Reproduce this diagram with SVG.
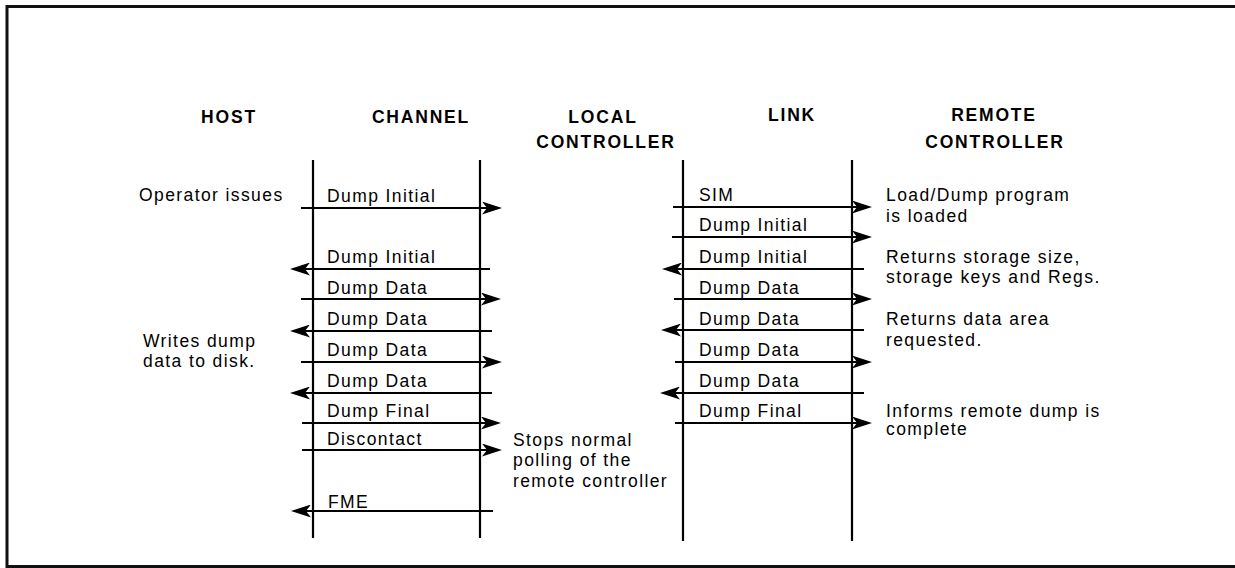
<svg xmlns="http://www.w3.org/2000/svg" width="1235" height="568" viewBox="0 0 1235 568">
  <style>
    .hdr { font-family: "Liberation Sans", Arial, sans-serif; font-weight: bold; font-size: 17.5px; letter-spacing: 1.8px; fill: #000; text-anchor: middle; }
    .lbl { font-family: "Liberation Sans", Arial, sans-serif; font-size: 17.5px; letter-spacing: 1.4px; fill: #000; }
    .life { stroke: #000; stroke-width: 2.2; fill: none; }
    .msg { stroke: #000; stroke-width: 2.2; fill: none; marker-end: url(#head); }
    .frame { stroke: #111; stroke-width: 3; fill: none; }
  </style>
  <defs>
    <!-- barbed filled arrowhead, tip sits 4px past the line end -->
    <marker id="head" viewBox="0 0 20 13" refX="16" refY="6.5" markerWidth="20" markerHeight="13" markerUnits="userSpaceOnUse" orient="auto">
      <path d="M0,0 L20,6.5 L0,13 L5,6.5 Z" fill="#000"/>
    </marker>
  </defs>
  <rect width="1235" height="568" fill="#fff"/>

  <!-- outer frame: top, left and bottom rules -->
  <g id="frame">
    <path class="frame" d="M1235,6.5 H7 V566.5 H1235"/>
  </g>

  <!-- column headings and side notes -->
  <g id="host">
    <text class="hdr" x="229" y="123">HOST</text>
    <text class="lbl" x="139" y="201">Operator issues</text>
    <text class="lbl" x="143" y="347">Writes dump</text>
    <text class="lbl" x="143" y="367">data to disk.</text>
  </g>
  <g id="channel">
    <text class="hdr" x="421" y="123">CHANNEL</text>
    <line class="life" x1="313" y1="160" x2="313" y2="538"/>
    <line class="life" x1="480" y1="160" x2="480" y2="538"/>
  </g>
  <g id="local-controller">
    <text class="hdr" x="603" y="123">LOCAL</text>
    <text class="hdr" x="606" y="148">CONTROLLER</text>
    <text class="lbl" x="513" y="446">Stops normal</text>
    <text class="lbl" x="513" y="466">polling of the</text>
    <text class="lbl" x="513" y="487">remote controller</text>
  </g>
  <g id="link">
    <text class="hdr" x="792" y="121">LINK</text>
    <line class="life" x1="683" y1="160" x2="683" y2="541"/>
    <line class="life" x1="852" y1="160" x2="852" y2="541"/>
  </g>
  <g id="remote-controller">
    <text class="hdr" x="994" y="121">REMOTE</text>
    <text class="hdr" x="995" y="148">CONTROLLER</text>
    <text class="lbl" x="886" y="201">Load/Dump program</text>
    <text class="lbl" x="886" y="222">is loaded</text>
    <text class="lbl" x="886" y="263">Returns storage size,</text>
    <text class="lbl" x="886" y="283">storage keys and Regs.</text>
    <text class="lbl" x="886" y="325">Returns data area</text>
    <text class="lbl" x="886" y="346">requested.</text>
    <text class="lbl" x="886" y="417">Informs remote dump is</text>
    <text class="lbl" x="886" y="435">complete</text>
  </g>

  <!-- messages -->
  <g id="connectors">
    <!-- host / channel side -->
    <line class="msg" x1="301" y1="208" x2="498" y2="208"/>
    <line class="msg" x1="490" y1="269" x2="294" y2="269"/>
    <line class="msg" x1="301" y1="299" x2="497" y2="299"/>
    <line class="msg" x1="492" y1="331" x2="294" y2="331"/>
    <line class="msg" x1="301" y1="362" x2="498" y2="362"/>
    <line class="msg" x1="492" y1="393" x2="294" y2="393"/>
    <line class="msg" x1="302" y1="423" x2="497" y2="423"/>
    <line class="msg" x1="302" y1="450" x2="498" y2="450"/>
    <line class="msg" x1="493" y1="511" x2="295" y2="511"/>
    <!-- link side -->
    <line class="msg" x1="673" y1="207" x2="868" y2="207"/>
    <line class="msg" x1="672" y1="237" x2="868" y2="237"/>
    <line class="msg" x1="864" y1="269" x2="666" y2="269"/>
    <line class="msg" x1="674" y1="299" x2="868" y2="299"/>
    <line class="msg" x1="864" y1="330" x2="665" y2="330"/>
    <line class="msg" x1="675" y1="362" x2="868" y2="362"/>
    <line class="msg" x1="864" y1="393" x2="664" y2="393"/>
    <line class="msg" x1="675" y1="423" x2="868" y2="423"/>
  </g>

  <!-- message labels -->
  <g id="message-labels">
    <text class="lbl" x="327" y="202">Dump Initial</text>
    <text class="lbl" x="327" y="263">Dump Initial</text>
    <text class="lbl" x="327" y="294">Dump Data</text>
    <text class="lbl" x="327" y="325">Dump Data</text>
    <text class="lbl" x="327" y="356">Dump Data</text>
    <text class="lbl" x="327" y="387">Dump Data</text>
    <text class="lbl" x="327" y="417">Dump Final</text>
    <text class="lbl" x="327" y="445">Discontact</text>
    <text class="lbl" x="328" y="508">FME</text>
    <text class="lbl" x="699" y="201">SIM</text>
    <text class="lbl" x="699" y="231">Dump Initial</text>
    <text class="lbl" x="699" y="263">Dump Initial</text>
    <text class="lbl" x="699" y="294">Dump Data</text>
    <text class="lbl" x="699" y="325">Dump Data</text>
    <text class="lbl" x="699" y="356">Dump Data</text>
    <text class="lbl" x="699" y="387">Dump Data</text>
    <text class="lbl" x="699" y="417">Dump Final</text>
  </g>
</svg>
